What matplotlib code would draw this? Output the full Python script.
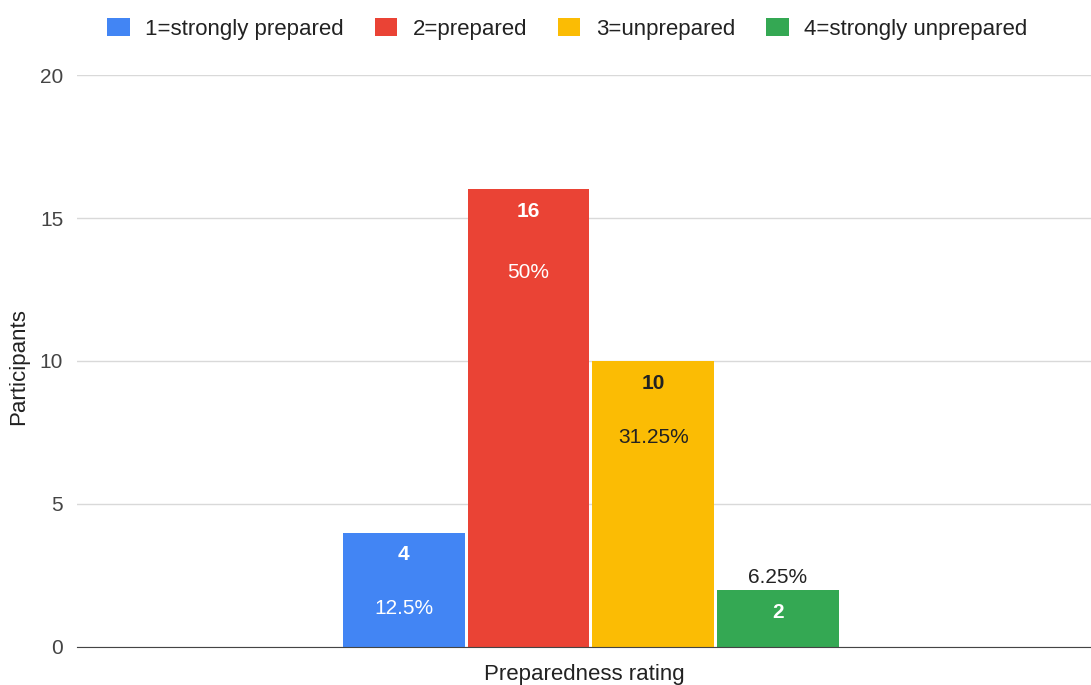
import numpy as np
import matplotlib.pyplot as plt
from matplotlib.patches import Patch

plt.rcParams['font.family'] = ['Liberation Sans', 'DejaVu Sans']

# Data
categories = ['1=strongly prepared', '2=prepared', '3=unprepared', '4=strongly unprepared']
participants = [4, 16, 10, 2]
percents = ['12.5%', '50%', '31.25%', '6.25%']
colors = ['#4285f4', '#ea4335', '#fbbc04', '#34a853']
text_colors = ['white', 'white', '#222222', 'white']

fig = plt.figure(figsize=(10.91, 6.85), dpi=100)
ax = fig.add_axes([0.0706, 0.0555, 0.9294, 0.835])

x = np.arange(len(categories))
bars = ax.bar(x, participants, width=0.975, color=colors, zorder=3)

fs = 15
for i, b in enumerate(bars):
    top = b.get_height()
    cx = b.get_x() + b.get_width() / 2
    ax.annotate(str(participants[i]), (cx, top), xytext=(0, -16), textcoords='offset points',
                ha='center', va='center', fontsize=fs, fontweight='bold', color=text_colors[i], zorder=4)
    if top >= 4:
        ax.annotate(percents[i], (cx, top), xytext=(0, -60 if top > 12 else -55), textcoords='offset points',
                    ha='center', va='center', fontsize=fs, color=text_colors[i], zorder=4)
    else:
        ax.annotate(percents[i], (cx, top), xytext=(0, 9), textcoords='offset points',
                    ha='center', va='center', fontsize=fs, color='#222222', zorder=4)

ax.set_xlim(-2.62, 5.51)
ax.set_ylim(0, 20)
ax.set_yticks([0, 5, 10, 15, 20])
ax.set_xticks([])
ax.grid(axis='y', color='#d9d9d9', linewidth=1, zorder=0)
for s in ['top', 'right', 'left']:
    ax.spines[s].set_visible(False)
ax.spines['bottom'].set_color('#444444')
ax.spines['bottom'].set_zorder(5)
ax.tick_params(axis='y', length=0, pad=10, labelsize=fs, labelcolor='#444444')

ax.set_ylabel('Participants', fontsize=16, color='#222222')
ax.yaxis.set_label_coords(-0.047, 0.49)
ax.set_xlabel('Preparedness rating', fontsize=16, color='#222222', labelpad=12)

handles = [Patch(facecolor=c, edgecolor='none') for c in colors]
fig.legend(handles, categories, loc='upper center', bbox_to_anchor=(0.52, 1.003), ncol=4,
           frameon=False, fontsize=16, handlelength=1.0, handleheight=0.9,
           handletextpad=0.7, columnspacing=1.4, labelcolor='#222222')

fig.savefig('out.png', dpi=100)
